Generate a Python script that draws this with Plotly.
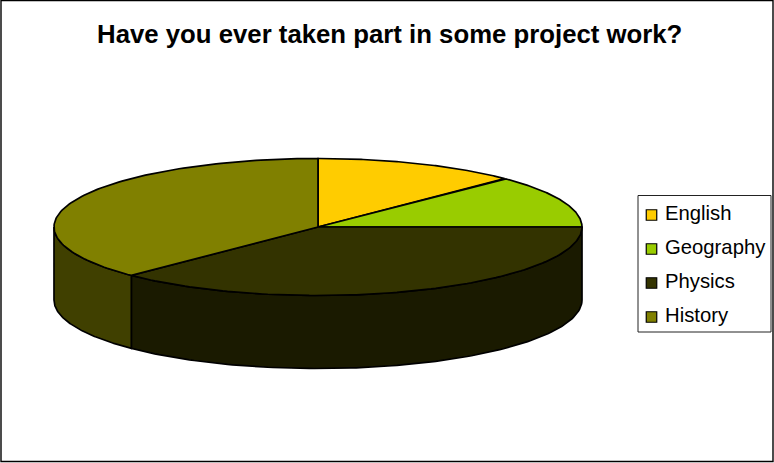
import numpy as np
import plotly.graph_objects as go

# Survey answers and their colours
categories = ["English", "Geography", "Physics", "History"]
values = [1, 1, 3, 3]
top_colors = ["#FFCC00", "#99CC00", "#333300", "#808000"]
side_colors = ["#7F6600", "#4C6600", "#1A1A00", "#404000"]
title_text = "Have you ever taken part in some project work?"

# Pie geometry in page pixels
WIDTH, HEIGHT = 774, 463
CX, CY, RX, RY, DEPTH = 318, 227, 264, 68.5, 73
FONT = "Liberation Sans, Arial, sans-serif"
EDGE = dict(color="black", width=1.7)


def rim(start, stop, drop=0.0, n=120):
    """Points on the tilted ellipse, angles clockwise from 12 o'clock."""
    t = np.radians(np.linspace(start, stop, n))
    return CX + RX * np.sin(t), CY - RY * np.cos(t) + drop


fractions = np.array(values, dtype=float) / sum(values)
edges = np.concatenate([[0.0], np.cumsum(fractions) * 360.0])

fig = go.Figure()

# Rim walls: only the part facing the viewer (90 to 270 degrees) is visible
for i, name in enumerate(categories):
    a, b = max(edges[i], 90.0), min(edges[i + 1], 270.0)
    if b <= a:
        continue
    x1, y1 = rim(a, b)
    x2, y2 = rim(b, a, DEPTH)
    fig.add_trace(go.Scatter(
        x=np.concatenate([x1, x2, x1[:1]]), y=np.concatenate([y1, y2, y1[:1]]),
        mode="lines", fill="toself", fillcolor=side_colors[i],
        line=EDGE, hoverinfo="skip", showlegend=False,
    ))

# Top faces
for i, name in enumerate(categories):
    x1, y1 = rim(edges[i], edges[i + 1])
    fig.add_trace(go.Scatter(
        x=np.concatenate([[CX], x1, [CX]]), y=np.concatenate([[CY], y1, [CY]]),
        mode="lines", fill="toself", fillcolor=top_colors[i],
        line=EDGE, name=name, hoverinfo="name", showlegend=False,
    ))

# Key on the right: swatches with their labels
key_y = [215 + 34 * i for i in range(len(categories))]
fig.add_trace(go.Scatter(
    x=[651.5] * len(categories), y=key_y, mode="markers",
    marker=dict(symbol="square", size=10.5, color=top_colors, line=dict(color="black", width=1.2)),
    hoverinfo="skip", showlegend=False,
))
fig.add_trace(go.Scatter(
    x=[665] * len(categories), y=key_y, mode="text", text=categories,
    textposition="middle right", textfont=dict(family=FONT, size=20.3, color="black"),
    hoverinfo="skip", showlegend=False,
))

fig.update_layout(
    width=WIDTH, height=HEIGHT, margin=dict(l=0, r=0, t=0, b=0),
    paper_bgcolor="white", plot_bgcolor="white",
    title=dict(text="<b>" + title_text + "</b>", x=0.5035, xanchor="center", y=1 - 34 / HEIGHT, yanchor="middle",
               font=dict(family=FONT, size=25.75, color="black")),
    xaxis=dict(range=[0, WIDTH], visible=False, fixedrange=True),
    yaxis=dict(range=[HEIGHT, 0], visible=False, fixedrange=True),
    shapes=[
        dict(type="rect", x0=1, y0=0.5, x1=773, y1=461.5, line=dict(color="black", width=1.4)),
        dict(type="rect", x0=638, y0=195.5, x1=771, y1=332, line=dict(color="#222222", width=1)),
    ],
)

fig.write_html("out.html", config=dict(displayModeBar=False))
